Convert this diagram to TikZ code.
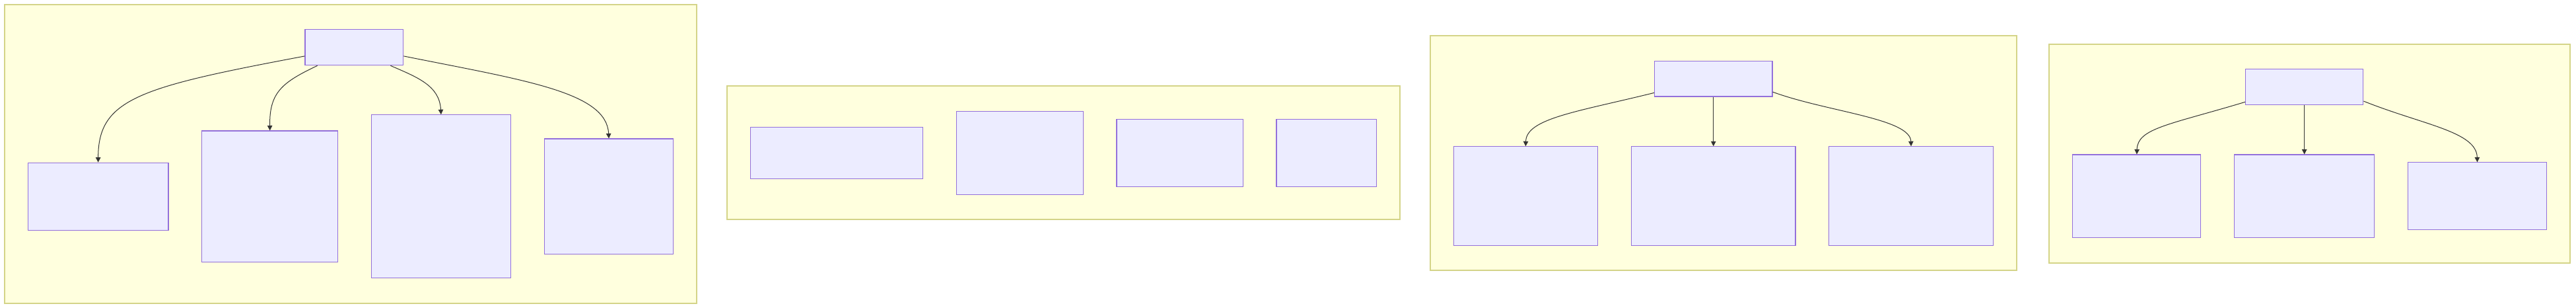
\documentclass[tikz,border=0pt]{standalone}
\usepackage{tikz}
\usetikzlibrary{arrows.meta,positioning,fit,backgrounds}
\definecolor{nodefill}{HTML}{ECECFF}
\definecolor{nodeborder}{HTML}{9370DB}
\definecolor{groupfill}{HTML}{FFFFDE}
\definecolor{groupborder}{HTML}{D4D488}
\definecolor{edgegray}{HTML}{333333}

\begin{document}
\begin{tikzpicture}[
    x=1mm, y=-1mm,
    node distance=3cm and 2cm,
    node_box/.style={rectangle, draw=nodeborder, fill=nodefill, line width=0.45mm, inner sep=0pt},
    group_box/.style={rectangle, draw=groupborder, fill=groupfill, line width=0.8mm, inner xsep=14mm, inner ysep=15mm},
    arrow/.style={-{Triangle[length=3mm,width=3mm]}, edgegray, line width=0.4mm}
]
\useasboundingbox (0,0) rectangle (1568,187.3);

% Group 1
\node[node_box, minimum width=59.8mm, minimum height=21.8mm] (root1) at (215.6,28.8) {};
\node[node_box, minimum width=85.5mm, minimum height=41.1mm] (sub11) at (59.75,119.5) {};
\node[node_box, minimum width=82.7mm, minimum height=79.8mm, right=of sub11] (sub12) {};
\node[node_box, minimum width=84.7mm, minimum height=99.3mm, right=of sub12] (sub13) {};
\node[node_box, minimum width=78.7mm, minimum height=70.2mm, right=of sub13] (sub14) {};

% Group 2
\node[node_box, minimum width=104.8mm, minimum height=31.5mm] (sub21) at (509.3,92.95) {};
\node[node_box, minimum width=77.1mm, minimum height=50.7mm, right=of sub21] (sub22) {};
\node[node_box, minimum width=76.8mm, minimum height=40.9mm, right=of sub22] (sub23) {};
\node[node_box, minimum width=60.8mm, minimum height=40.9mm, right=of sub23] (sub24) {};

% Group 3
\node[node_box, minimum width=71.7mm, minimum height=21.6mm] (root3) at (1042.95,47.9) {};
\node[node_box, minimum width=99.9mm, minimum height=60.1mm, below=of root3] (sub32) {};
\node[node_box, minimum width=87.8mm, minimum height=60.1mm, left=of sub32] (sub31) {};
\node[node_box, minimum width=99.8mm, minimum height=60.1mm, right=of sub32] (sub33) {};

% Group 4
\node[node_box, minimum width=71.7mm, minimum height=21.6mm] (root4) at (1402.65,52.8) {};
\node[node_box, minimum width=85.1mm, minimum height=50.5mm, below=of root4] (sub42) {};
\node[node_box, minimum width=78mm, minimum height=50.5mm, left=of sub42] (sub41) {};
\node[node_box, minimum width=84.5mm, minimum height=40.9mm, right=of sub42] (sub43) {};

% Frames
\begin{scope}[on background layer]
\node[group_box, fit=(root1)(sub11)(sub12)(sub13)(sub14)] (group1) {};
\node[group_box, fit=(sub21)(sub22)(sub23)(sub24)] (group2) {};
\node[group_box, fit=(root3)(sub31)(sub32)(sub33)] (group3) {};
\node[group_box, fit=(root4)(sub41)(sub42)(sub43)] (group4) {};
\end{scope}

% Connections
\draw[arrow] ([yshift=5.8mm]root1.south west) .. controls (85,53) and (59.75,60) .. (sub11.north);
\draw[arrow] ([xshift=7.7mm]root1.south west) .. controls (172,50) and (163.85,56) .. (sub12.north);
\draw[arrow] ([xshift=-8mm]root1.south east) .. controls (254,47) and (267.55,52) .. (sub13.north);
\draw[arrow] ([yshift=5.8mm]root1.south east) .. controls (320,49) and (369.25,56) .. (sub14.north);
\draw[arrow] ([yshift=2.5mm]root3.south west) .. controls (960,68) and (929.1,72) .. (sub31.north);
\draw[arrow] (root3) -- (sub32);
\draw[arrow] ([yshift=3mm]root3.south east) .. controls (1112,68) and (1162.8,72) .. (sub33.north);
\draw[arrow] ([yshift=1.8mm]root4.south west) .. controls (1320,76) and (1301.1,78) .. (sub41.north);
\draw[arrow] (root4) -- (sub42);
\draw[arrow] ([yshift=2.3mm]root4.south east) .. controls (1475,76) and (1507.45,80) .. (sub43.north);

\end{tikzpicture}
\end{document}
